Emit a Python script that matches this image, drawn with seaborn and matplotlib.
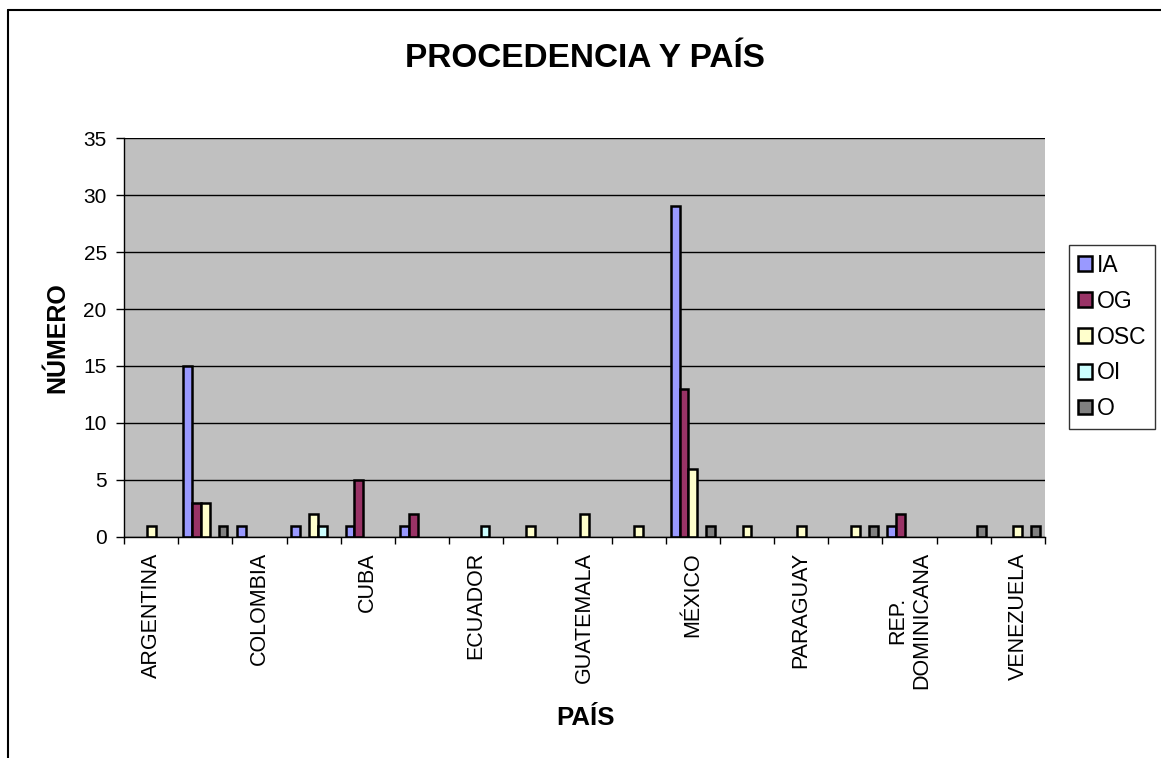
import numpy as np
import pandas as pd
import matplotlib
matplotlib.use("Agg")
import matplotlib.pyplot as plt
from matplotlib.patches import Patch
from matplotlib.lines import Line2D
from matplotlib.ticker import FixedLocator
import seaborn as sns

# Datos: procedencia por país (solo se rotulan los países en posición par)
PAISES = ["ARGENTINA", "BRASIL", "COLOMBIA", "COSTA RICA", "CUBA", "CHILE",
          "ECUADOR", "EL SALVADOR", "GUATEMALA", "HONDURAS", "MÉXICO",
          "NICARAGUA", "PARAGUAY", "PERÚ", "REP.\nDOMINICANA", "URUGUAY",
          "VENEZUELA"]
SERIES = ["IA", "OG", "OSC", "OI", "O"]

IA  = [0, 15, 1, 1, 1, 1, 0, 0, 0, 0, 29, 0, 0, 0, 1, 0, 0]
OG  = [0, 3, 0, 0, 5, 2, 0, 0, 0, 0, 13, 0, 0, 0, 2, 0, 0]
OSC = [1, 3, 0, 2, 0, 0, 0, 1, 2, 1, 6, 1, 1, 1, 0, 0, 1]
OI  = [0, 0, 0, 1, 0, 0, 1, 0, 0, 0, 0, 0, 0, 0, 0, 0, 0]
O   = [0, 1, 0, 0, 0, 0, 0, 0, 0, 0, 1, 0, 0, 1, 0, 1, 1]

COLORES = ["#9999FF", "#993366", "#FFFFCC", "#CCFFFF", "#808080"]

df = pd.DataFrame({"pais": PAISES, "IA": IA, "OG": OG, "OSC": OSC, "OI": OI, "O": O})
df = df.melt(id_vars="pais", var_name="serie", value_name="n")
df = df[df["n"] > 0]

sns.set_style("white")
plt.rcParams["font.family"] = ["Liberation Sans", "DejaVu Sans"]
plt.rcParams["text.color"] = "black"
plt.rcParams["xtick.color"] = "black"
plt.rcParams["ytick.color"] = "black"
plt.rcParams["axes.labelcolor"] = "black"

fig = plt.figure(figsize=(11.61, 7.58), dpi=100)
ax = fig.add_axes([0.1068, 0.2916, 0.9001 - 0.1068, 0.8179 - 0.2916])
ax.set_facecolor("#C0C0C0")

sns.barplot(data=df, x="pais", y="n", hue="serie", order=PAISES, hue_order=SERIES,
            palette=COLORES, saturation=1, width=0.82, edgecolor="black",
            linewidth=1.8, legend=False, ax=ax)

ax.set_xlim(-0.5, len(PAISES) - 0.5)
ax.set_ylim(0, 35)
ax.set_yticks(np.arange(0, 36, 5))
ax.yaxis.grid(True, color="black", linewidth=1)
ax.set_axisbelow(True)

# etiquetas alternas, marcas en los límites de categoría
etiquetas = [p if i % 2 == 0 else "" for i, p in enumerate(PAISES)]
ax.set_xticks(range(len(PAISES)))
ax.set_xticklabels(etiquetas, rotation=90, ha="center", va="top",
                   multialignment="center", fontsize=15.5)
ax.xaxis.set_minor_locator(FixedLocator(np.arange(-0.5, len(PAISES), 1)))
ax.tick_params(axis="x", which="major", length=0, pad=11)
ax.tick_params(axis="x", which="minor", bottom=True, length=5, width=1, color="black")
ax.tick_params(axis="y", left=True, length=5.5, width=1, color="black", pad=7, labelsize=15)

for lado in ["top", "right"]:
    ax.spines[lado].set_visible(False)
for lado in ["left", "bottom"]:
    ax.spines[lado].set_color("black")
    ax.spines[lado].set_linewidth(1)

ax.set_xlabel("")
ax.set_ylabel("")

fig.text(0.504, 0.923, "PROCEDENCIA Y PAÍS", ha="center", va="center",
         fontsize=24, fontweight="bold")
fig.text(0.049, 0.555, "NÚMERO", ha="center", va="center", rotation=90,
         fontsize=18, fontweight="bold")
fig.text(0.504, 0.053, "PAÍS", ha="center", va="center",
         fontsize=18.5, fontweight="bold")

# leyenda
handles = [Patch(facecolor=c, edgecolor="black", linewidth=1.8) for c in COLORES]
leg = fig.legend(handles, SERIES, loc="center", bbox_to_anchor=(0.9578, 0.5554),
                 fontsize=16.5, frameon=True, fancybox=False, handlelength=0.6,
                 handleheight=0.6, handletextpad=0.2, labelspacing=0.56,
                 borderpad=0.4, borderaxespad=0)
leg.get_frame().set_edgecolor("black")
leg.get_frame().set_linewidth(1)

# borde del área del gráfico (izquierda y arriba)
fig.add_artist(Line2D([0.0065, 0.0065], [0, 0.987], color="black", linewidth=1.5))
fig.add_artist(Line2D([0.0065, 1.0], [0.987, 0.987], color="black", linewidth=1.5))

fig.savefig("out.png", dpi=100, facecolor="white")
